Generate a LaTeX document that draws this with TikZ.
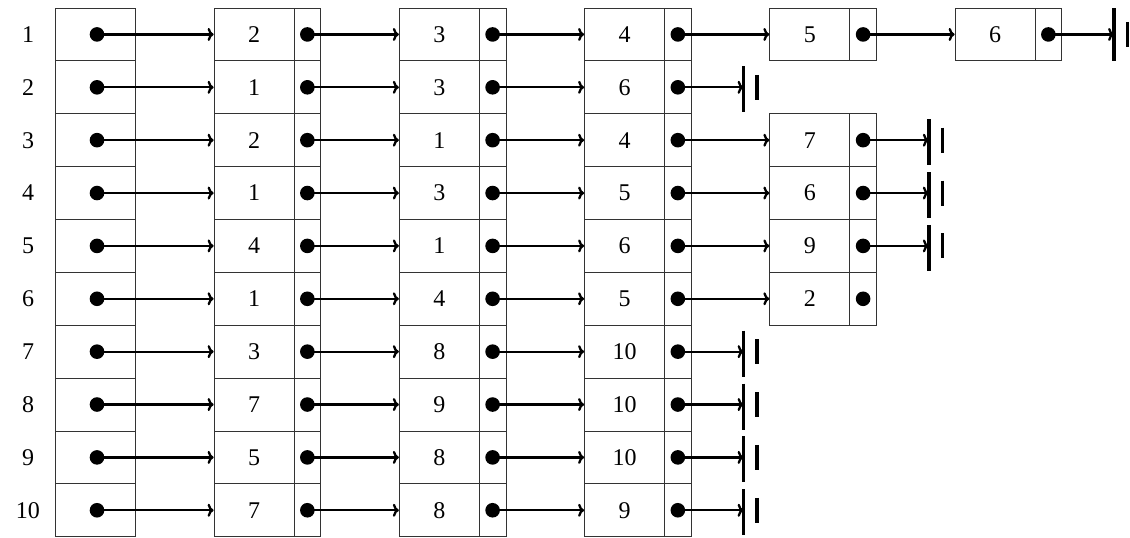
\documentclass[tikz,border=0pt]{standalone}
\usepackage{fontspec}
\setmainfont{Liberation Serif}
\usetikzlibrary{arrows.meta}
\begin{document}
\begin{tikzpicture}[x=1pt,y=-1pt,
  cell/.style={draw=black!80,line width=0.8pt,rectangle,inner sep=0pt,minimum height=52.87pt,font=\fontsize{24}{28}\selectfont},
  datacell/.style={cell,minimum width=80pt},
  ptrcell/.style={cell,minimum width=26.7pt},
  headcell/.style={cell,minimum width=79.5pt},
  lbl/.style={font=\fontsize{24}{28}\selectfont,inner sep=0pt},
  link/.style={line width=2.3pt,-{To[length=6pt,width=13pt]}},
  bar/.style={line width=3.6pt}]
\useasboundingbox (0,0) rectangle (1130,538);
\foreach \r/\lst in {1/{2,3,4,5,6},2/{1,3,6},3/{2,1,4,7},4/{1,3,5,6},5/{4,1,6,9},6/{1,4,5,2},7/{3,8,10},8/{7,9,10},9/{5,8,10},10/{7,8,9}}{
  \pgfmathsetmacro{\cy}{8+(\r-0.5)*52.87}
  \node[lbl] (l\r) at (28,\cy) {\r};
  \node[headcell] (h\r) at (95.25,\cy) {};
  \coordinate (hd\r) at (97,\cy);
  \foreach \v [count=\k] in \lst {
    \pgfmathsetmacro{\lx}{214+(\k-1)*185.25}
    \node[datacell] (d\r-\k) at (\lx+40,\cy) {\v};
    \node[ptrcell] (p\r-\k) at (\lx+93.35,\cy) {};
    \ifnum\k=1
      \draw[link] (hd\r) -- (d\r-\k.west);
    \else
      \pgfmathtruncatemacro{\prev}{\k-1}
      \draw[link] (p\r-\prev.center) -- (d\r-\k.west);
    \fi
    \fill (p\r-\k.center) circle[radius=7.3pt];
  }
  \fill (hd\r) circle[radius=7.3pt];
}
\foreach \r/\k/\up/\dn in {1/5/26/27,2/3/21/25,3/4/21/25,4/4/21/25,5/4/21/25,7/3/21/25,8/3/21/25,9/3/21/25,10/3/21/25}{
  \coordinate (g\r) at ([xshift=52pt]p\r-\k.east);
  \draw[link] (p\r-\k.center) -- (g\r);
  \draw[bar] ([yshift=\up pt]g\r) -- ([yshift=-\dn pt]g\r);
  \draw[bar] ([xshift=13.5pt,yshift=12.5pt]g\r) -- ([xshift=13.5pt,yshift=-12.5pt]g\r);
}
\end{tikzpicture}
\end{document}
